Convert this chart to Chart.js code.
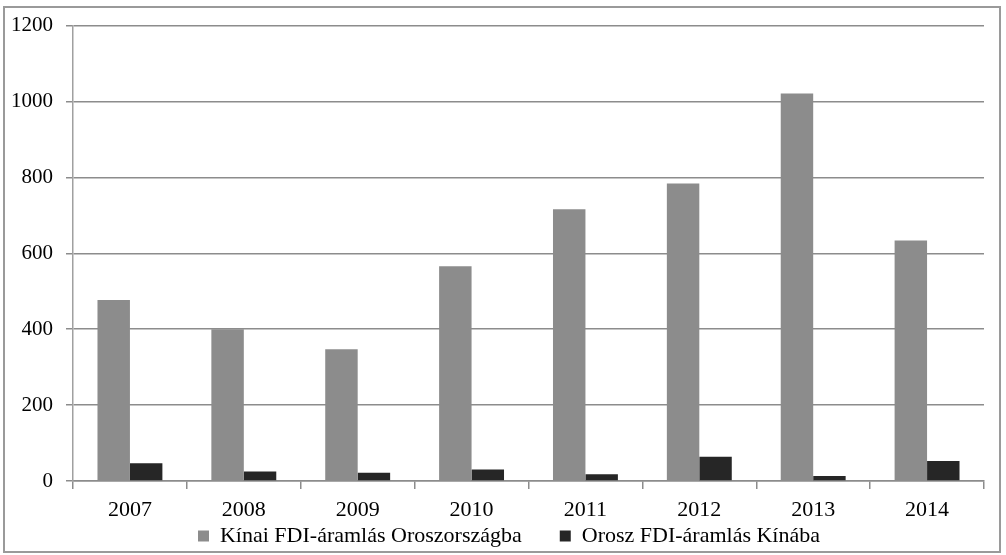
<!DOCTYPE html>
<html>
<head>
<meta charset="utf-8">
<script src="https://cdn.jsdelivr.net/npm/chart.js@4.4.1/dist/chart.umd.min.js"></script>
<style>
html,body{margin:0;padding:0;background:#fff;}
#wrap{width:1006px;height:555px;position:relative;}
</style>
</head>
<body>
<div id="wrap"><canvas id="c" width="1006" height="555"></canvas></div>
<script>
const categories = ['2007','2008','2009','2010','2011','2012','2013','2014'];
const chinaToRussia = [477, 400, 347, 566, 716, 784, 1021, 634];
const russiaToChina = [47, 25, 22, 30, 18, 64, 13, 53];
const seriesNames = ['Kínai FDI-áramlás Oroszországba', 'Orosz FDI-áramlás Kínába'];
const yTicks = [0, 200, 400, 600, 800, 1000, 1200];

Chart.defaults.font.family = "'Liberation Serif', 'Times New Roman', serif";
Chart.defaults.font.size = 22;
Chart.defaults.color = '#000';

const LEGEND_PAD = 38;
const LEGEND_VSHIFT = 35;
const LEGEND_HSHIFT = 17;

const borderPlugin = {
  id: 'outerBorder',
  beforeDraw(chart) {
    const ctx = chart.ctx;
    ctx.save();
    ctx.fillStyle = '#fff';
    ctx.fillRect(0, 0, chart.width, chart.height);
    ctx.strokeStyle = '#9a9a9a';
    ctx.lineWidth = 2;
    ctx.strokeRect(4, 7, 996, 545);
    ctx.restore();
  },
  afterLayout(chart) {
    const lg = chart.legend;
    if (lg) {
      lg.top -= LEGEND_VSHIFT;
      lg.height += LEGEND_VSHIFT;
      lg.left += LEGEND_HSHIFT;
      lg.right += LEGEND_HSHIFT;
    }
  }
};

new Chart(document.getElementById('c'), {
  type: 'bar',
  data: {
    labels: categories,
    datasets: [
      { label: seriesNames[0], data: chinaToRussia, backgroundColor: '#8c8c8c', borderWidth: 0 },
      { label: seriesNames[1], data: russiaToChina, backgroundColor: '#262626', borderWidth: 0 }
    ]
  },
  plugins: [borderPlugin],
  options: {
    responsive: false,
    animation: false,
    devicePixelRatio: 1,
    layout: { padding: { left: 0, right: 22, top: 25, bottom: 0 } },
    datasets: { bar: { categoryPercentage: 0.57, barPercentage: 1.0 } },
    plugins: {
      tooltip: { enabled: false },
      legend: {
        position: 'bottom',
        maxHeight: 33,
        labels: {
          boxWidth: 11,
          boxHeight: 11,
          padding: LEGEND_PAD,
          font: { size: 22 },
          color: '#000'
        }
      }
    },
    scales: {
      x: {
        afterFit(s) { s.height = 41; },
        grid: {
          offset: true,
          drawOnChartArea: false,
          drawTicks: true,
          tickLength: 8,
          color: '#8c8c8c',
          lineWidth: 1.5
        },
        border: { color: '#8c8c8c', width: 1.5 },
        ticks: { padding: 8, color: '#000', font: { size: 22 }, maxRotation: 0 }
      },
      y: {
        min: 0,
        max: 1200,
        afterFit(s) { s.width = 73; },
        afterBuildTicks(s) { s.ticks = yTicks.map(v => ({ value: v })); },
        grid: {
          color: '#8c8c8c',
          lineWidth: 1.5,
          tickLength: 7
        },
        border: { color: '#a0a0a0', width: 1.5 },
        ticks: {
          padding: 13,
          color: '#000',
          font: { size: 21 },
          callback: (v) => String(v)
        }
      }
    }
  }
});
</script>
</body>
</html>
